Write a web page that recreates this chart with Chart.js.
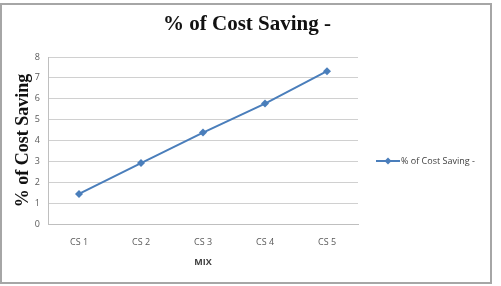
<!DOCTYPE html>
<html>
<head>
<meta charset="utf-8">
<script src="https://cdn.jsdelivr.net/npm/chart.js@4"></script>
<style>
    html, body { margin: 0; padding: 0; background: #fff; }
    #wrap { width: 501px; height: 286px; }
</style>
</head>
<body>
<div id="wrap"><canvas id="chart-saving"></canvas></div>
<script>
const categories = ['CS 1', 'CS 2', 'CS 3', 'CS 4', 'CS 5'];
const costSaving = [1.44, 2.92, 4.38, 5.77, 7.32];
const yTicks = [0, 1, 2, 3, 4, 5, 6, 7, 8];
const seriesLabel = '% of Cost Saving -';
const chartTitle = '% of Cost Saving -';

const lineColor = '#4a7ebb';

// frame and title, centred on the whole picture like the Excel export
const framePlugin = {
    id: 'frame',
    afterDraw(chart) {
        const ctx = chart.ctx;
        ctx.save();
        ctx.strokeStyle = '#a6a6a6';
        ctx.lineWidth = 2;
        ctx.strokeRect(1, 4, 490, 279);
        ctx.fillStyle = '#111';
        ctx.font = 'bold 21px "Liberation Serif", serif';
        ctx.textAlign = 'center';
        ctx.textBaseline = 'middle';
        ctx.fillText(chartTitle, 247, 25);
        ctx.restore();
    }
};

// Excel style legend on the right
const sideLegend = {
    id: 'sideLegend',
    afterDraw(chart) {
        const ctx = chart.ctx;
        const ds = chart.data.datasets[0];
        const y = 161;
        ctx.save();
        ctx.strokeStyle = ds.borderColor;
        ctx.lineWidth = 2;
        ctx.beginPath();
        ctx.moveTo(376, y);
        ctx.lineTo(400, y);
        ctx.stroke();
        ctx.fillStyle = ds.borderColor;
        ctx.beginPath();
        ctx.moveTo(388, y - 3.5);
        ctx.lineTo(391.5, y);
        ctx.lineTo(388, y + 3.5);
        ctx.lineTo(384.5, y);
        ctx.closePath();
        ctx.fill();
        ctx.fillStyle = '#404040';
        ctx.font = '9px "Open Sans", sans-serif';
        ctx.textBaseline = 'middle';
        ctx.fillText(ds.label, 401, y);
        ctx.restore();
    }
};

new Chart(document.getElementById('chart-saving'), {
    type: 'line',
    data: {
        labels: categories,
        datasets: [{
            label: seriesLabel,
            data: costSaving,
            borderColor: lineColor,
            backgroundColor: lineColor,
            borderWidth: 2,
            pointStyle: 'rectRot',
            pointRadius: 4,
            pointBorderWidth: 0,
            tension: 0,
        }],
    },
    options: {
        responsive: true,
        maintainAspectRatio: false,
        animation: false,
        layout: {
            padding: { left: 2, right: 143, top: 57, bottom: 4 },
        },
        plugins: {
            legend: { display: false },
            tooltip: { enabled: false },
            title: { display: false },
        },
        scales: {
            x: {
                offset: true,
                grid: { display: false, drawTicks: false },
                border: { color: '#bfbfbf' },
                ticks: {
                    color: '#595959',
                    font: { family: '"Open Sans", sans-serif', size: 9 },
                    padding: 13,
                    maxRotation: 0,
                },
                title: {
                    display: true,
                    text: 'MIX',
                    color: '#404040',
                    font: { family: '"Open Sans", sans-serif', size: 9, weight: 'bold' },
                    padding: { top: 0, bottom: 14 },
                },
                afterFit(scale) { scale.height = 58; },
            },
            y: {
                min: 0,
                max: 8,
                afterBuildTicks(scale) {
                    scale.ticks = yTicks.map(v => ({ value: v }));
                },
                grid: { color: '#d0d0d0', drawTicks: false },
                border: { color: '#bfbfbf' },
                ticks: {
                    color: '#595959',
                    font: { family: '"Open Sans", sans-serif', size: 9 },
                    padding: 8,
                },
                title: {
                    display: true,
                    text: '% of Cost Saving',
                    color: '#111',
                    font: { family: '"Liberation Serif", serif', size: 18, weight: 'bold' },
                    padding: { top: 11, bottom: 0 },
                },
                afterFit(scale) { scale.width = 46; },
            },
        },
    },
    plugins: [framePlugin, sideLegend],
});
</script>
</body>
</html>
